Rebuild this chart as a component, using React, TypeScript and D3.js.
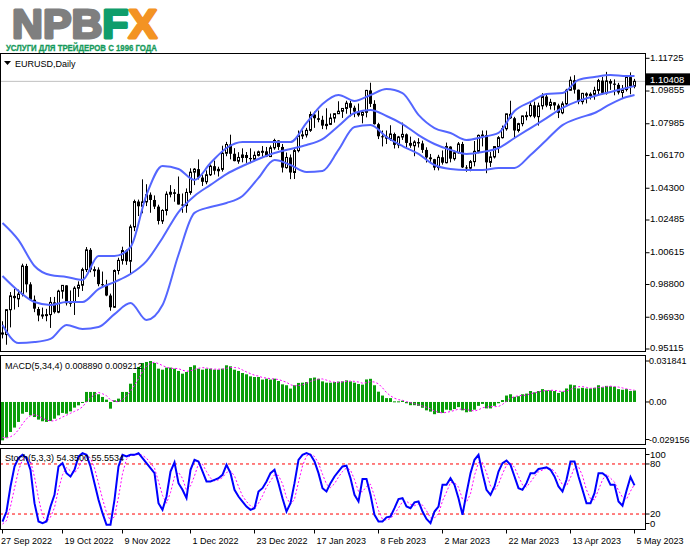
import React from "react";
import * as d3 from "d3";

// ---------- price data (EURUSD daily) ----------
const openP = [
  0.9606,0.9594,0.9736,0.9815,0.9798,0.9825,0.9986,0.9881,0.9793,0.9740,
  0.9703,0.9706,0.9708,0.9778,0.9722,0.9842,0.9875,0.9773,0.9781,0.9859,
  0.9876,0.9965,1.0078,0.9965,0.9965,0.9882,0.9876,0.9817,0.9750,0.9960,
  1.0018,1.0074,1.0013,1.0209,1.0354,1.0327,1.0352,1.0393,1.0363,1.0325,
  1.0243,1.0303,1.0396,1.0407,1.0398,1.0337,1.0331,1.0406,1.0522,1.0539,
  1.0491,1.0467,1.0507,1.0556,1.0530,1.0538,1.0630,1.0680,1.0627,1.0585,
  1.0606,1.0620,1.0603,1.0596,1.0618,1.0638,1.0641,1.0611,1.0661,1.0703,
  1.0666,1.0548,1.0606,1.0520,1.0645,1.0731,1.0735,1.0761,1.0851,1.0830,
  1.0821,1.0788,1.0795,1.0831,1.0856,1.0870,1.0886,1.0916,1.0890,1.0868,
  1.0847,1.0864,1.0989,1.0912,1.0796,1.0727,1.0726,1.0713,1.0740,1.0678,
  1.0723,1.0738,1.0689,1.0673,1.0694,1.0686,1.0649,1.0606,1.0596,1.0548,
  1.0607,1.0576,1.0668,1.0599,1.0633,1.0683,1.0549,1.0545,1.0582,1.0641,
  1.0732,1.0734,1.0578,1.0609,1.0668,1.0719,1.0770,1.0855,1.0830,1.0760,
  1.0799,1.0843,1.0845,1.0904,1.0839,1.0901,1.0954,1.0903,1.0921,1.0903,
  1.0861,1.0912,1.0990,1.1047,1.0993,1.0925,1.0972,1.0959,1.0967,1.0989,
  1.1045,1.0975,1.1043,1.1028,1.1021,1.0977,1.0994,1.1065,1.1013
];
const highP = [
  0.9670,0.9738,0.9837,0.9854,0.9851,0.9999,0.9998,0.9893,0.9817,0.9752,
  0.9748,0.9741,0.9808,0.9809,0.9850,0.9874,0.9876,0.9846,0.9870,0.9898,
  0.9976,1.0094,1.0088,0.9983,0.9978,0.9954,0.9907,0.9828,0.9966,1.0033,
  1.0096,1.0080,1.0222,1.0365,1.0365,1.0481,1.0453,1.0406,1.0389,1.0336,
  1.0310,1.0412,1.0448,1.0425,1.0497,1.0400,1.0429,1.0544,1.0545,1.0595,
  1.0505,1.0532,1.0566,1.0588,1.0553,1.0673,1.0695,1.0736,1.0659,1.0636,
  1.0658,1.0637,1.0658,1.0640,1.0645,1.0671,1.0666,1.0674,1.0713,1.0703,
  1.0683,1.0634,1.0623,1.0660,1.0760,1.0761,1.0775,1.0868,1.0868,1.0874,
  1.0844,1.0887,1.0857,1.0859,1.0927,1.0887,1.0930,1.0929,1.0902,1.0914,
  1.0877,1.0992,1.1033,1.0933,1.0804,1.0760,1.0760,1.0790,1.0748,1.0729,
  1.0805,1.0743,1.0725,1.0704,1.0716,1.0702,1.0664,1.0626,1.0598,1.0621,
  1.0646,1.0691,1.0670,1.0645,1.0694,1.0695,1.0562,1.0591,1.0700,1.0737,
  1.0760,1.0760,1.0637,1.0670,1.0728,1.0788,1.0856,1.0930,1.0838,1.0804,
  1.0845,1.0868,1.0926,1.0925,1.0919,1.0973,1.0970,1.0941,1.0922,1.0913,
  1.0926,1.0998,1.1068,1.1076,1.0994,1.0975,1.0978,1.0978,1.1010,1.1055,
  1.1066,1.1095,1.1053,1.1052,1.1032,1.1020,1.1077,1.1092,1.1055
];
const lowP = [
  0.9572,0.9536,0.9635,0.9737,0.9751,0.9812,0.9835,0.9786,0.9722,0.9670,
  0.9684,0.9670,0.9632,0.9714,0.9716,0.9799,0.9760,0.9753,0.9706,0.9809,
  0.9843,0.9951,0.9950,0.9924,0.9870,0.9864,0.9813,0.9730,0.9747,0.9937,
  0.9994,0.9992,0.9935,1.0185,1.0271,1.0287,1.0328,1.0290,1.0311,1.0223,
  1.0226,1.0275,1.0378,1.0353,1.0337,1.0290,1.0290,1.0393,1.0448,1.0480,
  1.0443,1.0453,1.0500,1.0508,1.0497,1.0525,1.0613,1.0595,1.0584,1.0570,
  1.0578,1.0575,1.0573,1.0586,1.0612,1.0609,1.0608,1.0609,1.0650,1.0649,
  1.0520,1.0542,1.0482,1.0483,1.0635,1.0711,1.0720,1.0752,1.0775,1.0807,
  1.0768,1.0766,1.0791,1.0805,1.0855,1.0832,1.0856,1.0840,1.0836,1.0839,
  1.0801,1.0835,1.0894,1.0794,1.0711,1.0669,1.0683,1.0701,1.0657,1.0659,
  1.0706,1.0662,1.0661,1.0613,1.0663,1.0632,1.0577,1.0577,1.0533,1.0532,
  1.0565,1.0572,1.0578,1.0588,1.0628,1.0546,1.0524,1.0527,1.0555,1.0630,
  1.0669,1.0516,1.0552,1.0600,1.0631,1.0714,1.0759,1.0826,1.0713,1.0749,
  1.0784,1.0818,1.0836,1.0830,1.0788,1.0880,1.0893,1.0880,1.0875,1.0831,
  1.0853,1.0906,1.0988,1.0971,1.0910,1.0909,1.0915,1.0937,1.0936,1.0968,
  1.0966,1.0965,1.0992,1.0961,1.0966,1.0941,1.0983,1.0967,1.1001
];
const closeP = [
  0.9594,0.9736,0.9815,0.9802,0.9825,0.9986,0.9881,0.9793,0.9742,0.9703,
  0.9706,0.9708,0.9778,0.9722,0.9842,0.9875,0.9773,0.9781,0.9859,0.9876,
  0.9965,1.0078,0.9965,0.9965,0.9882,0.9876,0.9817,0.9750,0.9960,1.0018,
  1.0074,1.0013,1.0209,1.0354,1.0327,1.0352,1.0393,1.0363,1.0325,1.0243,
  1.0303,1.0396,1.0407,1.0398,1.0337,1.0331,1.0406,1.0522,1.0539,1.0491,
  1.0467,1.0507,1.0556,1.0530,1.0538,1.0630,1.0680,1.0627,1.0585,1.0606,
  1.0620,1.0603,1.0596,1.0618,1.0638,1.0641,1.0611,1.0661,1.0703,1.0666,
  1.0548,1.0606,1.0520,1.0645,1.0731,1.0735,1.0761,1.0851,1.0830,1.0821,
  1.0788,1.0795,1.0831,1.0856,1.0870,1.0886,1.0916,1.0890,1.0868,1.0847,
  1.0864,1.0989,1.0912,1.0796,1.0727,1.0726,1.0713,1.0740,1.0678,1.0723,
  1.0738,1.0689,1.0673,1.0694,1.0686,1.0649,1.0606,1.0596,1.0548,1.0607,
  1.0576,1.0668,1.0599,1.0633,1.0683,1.0549,1.0545,1.0582,1.0641,1.0732,
  1.0734,1.0578,1.0609,1.0668,1.0719,1.0770,1.0855,1.0830,1.0760,1.0799,
  1.0843,1.0845,1.0904,1.0839,1.0901,1.0954,1.0903,1.0921,1.0903,1.0861,
  1.0912,1.0990,1.1047,1.0993,1.0925,1.0972,1.0959,1.0967,1.0989,1.1045,
  1.0975,1.1043,1.1028,1.1021,1.0977,1.0994,1.1065,1.1013,1.1041
];

// ---------- Bollinger bands, read at every 4th bar ----------
const bandIdx = [0,4,8,12,16,20,24,28,32,36,40,44,48,52,56,60,64,68,72,76,80,84,88,92,96,100,104,108,112,116,120,124,128,132,136,140,144,148,152,156,158];
const bbUpper = [
  1.0232,1.0134,0.9986,0.9934,0.9923,0.9906,1.0043,1.0043,1.0094,1.0392,
  1.0557,1.0540,1.0477,1.0574,1.0660,1.0694,1.0694,1.0694,1.0694,1.0803,
  1.0911,1.0963,1.0929,1.0963,1.0997,1.0974,1.0849,1.0774,1.0746,1.0706,
  1.0723,1.0746,1.0871,1.0923,1.0968,1.0974,1.1049,1.1066,1.1077,1.1071,1.1071
];
const bbMiddle = [
  0.9929,0.9843,0.9780,0.9763,0.9780,0.9780,0.9854,0.9894,0.9940,1.0014,
  1.0146,1.0294,1.0386,1.0449,1.0511,1.0557,1.0597,1.0631,1.0654,1.0677,
  1.0711,1.0786,1.0860,1.0877,1.0843,1.0797,1.0734,1.0683,1.0649,1.0626,
  1.0637,1.0660,1.0717,1.0774,1.0831,1.0889,1.0929,1.0957,1.0980,1.1003,1.1014
];
const bbLower = [
  0.9649,0.9546,0.9551,0.9569,0.9649,0.9626,0.9637,0.9711,0.9774,0.9677,
  0.9763,1.0050,1.0289,1.0323,1.0346,1.0386,1.0489,1.0591,1.0563,1.0523,
  1.0529,1.0649,1.0780,1.0791,1.0723,1.0671,1.0626,1.0563,1.0540,1.0534,
  1.0534,1.0546,1.0546,1.0620,1.0706,1.0791,1.0831,1.0860,1.0911,1.0951,1.0963
];

// ---------- MACD(5,34,4) ----------
const macdHist = [
  -0.0298,-0.0277,-0.0233,-0.0199,-0.0155,-0.0091,-0.0078,-0.0104,-0.0117,-0.0137,
  -0.0150,-0.0155,-0.0148,-0.0130,-0.0104,-0.0085,-0.0091,-0.0073,-0.0044,-0.0026,
  -0.0008,0.0078,0.0078,0.0078,0.0060,0.0039,0.0018,-0.0052,0.0013,0.0026,
  0.0078,0.0078,0.0142,0.0225,0.0272,0.0303,0.0311,0.0318,0.0303,0.0259,
  0.0251,0.0267,0.0267,0.0259,0.0241,0.0220,0.0233,0.0272,0.0285,0.0259,
  0.0251,0.0259,0.0259,0.0251,0.0251,0.0259,0.0285,0.0277,0.0251,0.0241,
  0.0225,0.0215,0.0199,0.0194,0.0194,0.0174,0.0181,0.0174,0.0181,0.0163,
  0.0137,0.0130,0.0104,0.0130,0.0148,0.0150,0.0155,0.0185,0.0190,0.0180,
  0.0160,0.0150,0.0150,0.0155,0.0158,0.0160,0.0168,0.0160,0.0150,0.0140,
  0.0135,0.0175,0.0180,0.0130,0.0080,0.0050,0.0030,0.0030,0.0005,0.0005,
  0.0010,-0.0010,-0.0025,-0.0025,-0.0030,-0.0045,-0.0065,-0.0075,-0.0095,-0.0085,
  -0.0085,-0.0060,-0.0065,-0.0055,-0.0040,-0.0065,-0.0080,-0.0075,-0.0060,-0.0030,
  -0.0015,-0.0050,-0.0050,-0.0030,-0.0010,0.0015,0.0050,0.0060,0.0040,0.0045,
  0.0060,0.0065,0.0085,0.0075,0.0085,0.0100,0.0090,0.0090,0.0085,0.0070,
  0.0080,0.0105,0.0135,0.0130,0.0105,0.0110,0.0105,0.0105,0.0110,0.0130,
  0.0115,0.0125,0.0122,0.0118,0.0100,0.0095,0.0100,0.0085,0.0089
];
const macdSignal = [
  -0.0275,-0.0280,-0.0270,-0.0252,-0.0216,-0.0170,-0.0131,-0.0107,-0.0098,-0.0109,
  -0.0127,-0.0140,-0.0148,-0.0146,-0.0134,-0.0117,-0.0103,-0.0088,-0.0073,-0.0059,
  -0.0038,0.0000,0.0031,0.0057,0.0074,0.0064,0.0049,0.0016,0.0005,0.0001,
  0.0016,0.0049,0.0081,0.0131,0.0179,0.0236,0.0278,0.0301,0.0309,0.0298,
  0.0283,0.0270,0.0261,0.0261,0.0259,0.0247,0.0238,0.0242,0.0253,0.0262,
  0.0267,0.0264,0.0257,0.0255,0.0255,0.0255,0.0262,0.0268,0.0268,0.0264,
  0.0249,0.0233,0.0220,0.0208,0.0201,0.0190,0.0186,0.0181,0.0178,0.0175,
  0.0164,0.0153,0.0134,0.0125,0.0128,0.0133,0.0146,0.0160,0.0170,0.0178,
  0.0179,0.0170,0.0160,0.0154,0.0153,0.0156,0.0160,0.0162,0.0160,0.0155,
  0.0146,0.0150,0.0158,0.0155,0.0141,0.0110,0.0073,0.0048,0.0029,0.0018,
  0.0013,0.0003,-0.0005,-0.0013,-0.0023,-0.0031,-0.0041,-0.0054,-0.0070,-0.0080,
  -0.0085,-0.0081,-0.0074,-0.0066,-0.0055,-0.0056,-0.0060,-0.0065,-0.0070,-0.0061,
  -0.0045,-0.0039,-0.0036,-0.0036,-0.0035,-0.0019,0.0006,0.0029,0.0041,0.0049,
  0.0051,0.0053,0.0064,0.0071,0.0078,0.0086,0.0088,0.0091,0.0091,0.0084,
  0.0081,0.0085,0.0098,0.0113,0.0119,0.0120,0.0113,0.0106,0.0108,0.0113,
  0.0115,0.0120,0.0123,0.0120,0.0116,0.0109,0.0103,0.0095,0.0092
];

// ---------- Stochastic(5,3,3) ----------
const stochMain = [
  11,23,53,77,87,91,87,73,33,11,
  9,11,29,43,77,81,69,65,73,89,
  93,91,77,57,37,21,7,7,37,77,
  91,89,91,91,93,87,81,75,69,33,
  25,41,71,82,57,49,39,73,85,83,
  71,59,59,61,63,67,79,69,49,41,
  35,29,25,27,47,51,59,69,73,57,
  39,23,33,57,85,91,93,91,83,69,
  51,47,57,65,71,77,78,63,43,35,
  62,62,43,19,11,11,16,17,27,38,
  39,29,27,34,35,23,14,9,23,29,
  55,55,63,55,39,19,45,69,85,91,
  69,49,43,53,71,81,84,79,65,51,
  49,57,69,69,74,75,76,73,65,53,
  47,61,83,83,65,49,33,33,45,69,
  69,65,55,55,35,30,48,64.3,54.35
];
const stochSignal = [
  8,12,29,51,72.3,85,88.3,83.7,64.3,39,
  17.7,10.3,16.3,27.7,49.7,67,75.7,71.7,69,75.7,
  85,91,87,75,57,38.3,21.7,11.7,17,40.3,
  68.3,85.7,90.3,90.3,91.7,90.3,87,81,75,59,
  42.3,33,45.7,64.7,70,62.7,48.3,53.7,65.7,80.3,
  79.7,71,63,59.7,61,63.7,69.7,71.7,65.7,53,
  41.7,35,29.7,27,33,41.7,52.3,59.7,67,66.3,
  56.3,39.7,31.7,37.7,58.3,77.7,89.7,91.7,89,81,
  67.7,55.7,51.7,56.3,64.3,71,75.3,72.7,61.3,47,
  46.7,53,55.7,41.3,24.3,13.7,12.7,14.7,20,27.3,
  34.7,35.3,31.7,30,32,30.7,24,15.3,15.3,20.3,
  35.7,46.3,57.7,57.7,52.3,37.7,34.3,44.3,66.3,81.7,
  81.7,69.7,53.7,48.3,55.7,68.3,78.7,81.3,76,65,
  55,52.3,58.3,65,70.7,72.7,75,74.7,71.3,63.7,
  55,53.7,63.7,75.7,77,65.7,49,38.3,37,49,
  61,67.7,63,58.3,48.3,40,37.7,47.4,55.5534
];

// ---------- axes ----------
const priceTicks = [1.11725,1.09855,1.07985,1.0617,1.043,1.02485,1.00615,0.988,0.9693,0.95115];
const priceTickLabels = ["1.11725","1.09855","1.07985","1.06170","1.04300","1.02485","1.00615","0.98800","0.96930","0.95115"];
const macdTicks = [0.031841, 0, -0.029156];
const macdTickLabels = ["0.031841","0.00","-0.029156"];
const stochTicks = [100, 80, 20, 0];
const stochLevels = [80, 20];
const dateLabels = ["27 Sep 2022","19 Oct 2022","9 Nov 2022","1 Dec 2022","23 Dec 2022","17 Jan 2023","8 Feb 2023","2 Mar 2023","22 Mar 2023","13 Apr 2023","5 May 2023"];
const dateIdx = [0,15,30,47,63,78,94,110,126,142,158];
const bidPrice = 1.10408;
const bidLabel = "1.10408";
const symbolTitle = "EURUSD,Daily";
const macdTitle = "MACD(5,34,4) 0.008890 0.009212";
const stochTitle = "Stoch(5,3,3) 54.3500 55.5534";
const logoMain = "NPB";
const logoF = "F";
const logoX = "X";
const tagline = "УСЛУГИ ДЛЯ ТРЕЙДЕРОВ С 1996 ГОДА";

const FONT = "'Liberation Sans', Arial, sans-serif";

export default function App() {
  const N = closeP.length;
  const PR = 645.5; // right edge of panels
  const main = { t: 53.5, b: 351.5 };
  const macdP = { t: 355.5, b: 444.5 };
  const stP = { t: 448.5, b: 529.5 };

  const xS = d3.scaleLinear().domain([0, N - 1]).range([2.5, 634.5]);
  const yP = d3.scaleLinear().domain([0.95115, 1.11725]).range([349, 58.3]);
  const yM = d3.scaleLinear().domain([-0.029156, 0.031841]).range([439.5, 361]);
  const yS = d3.scaleLinear().domain([0, 100]).range([530.7, 447.3]);

  const bandLine = d3
    .line<number>()
    .x((_, k) => xS(bandIdx[k]))
    .y((v) => yP(v))
    .curve(d3.curveMonotoneX);

  const macdSigLine = d3
    .line<number>()
    .x((_, i) => xS(i))
    .y((v) => yM(v));
  const stLine = d3
    .line<number>()
    .x((_, i) => xS(i))
    .y((v) => yS(v));

  const bidY = yP(bidPrice);

  return (
    <div style={{ position: "absolute", left: 0, top: 0, width: 691, height: 549, background: "#fff" }}>
      <svg width={691} height={549} style={{ display: "block" }} fontFamily={FONT}>
        <defs>
          <clipPath id="cMain">
            <rect x={1} y={main.t + 0.5} width={PR - 1.5} height={main.b - main.t - 1} />
          </clipPath>
          <clipPath id="cMacd">
            <rect x={1} y={macdP.t + 0.5} width={PR - 1.5} height={macdP.b - macdP.t - 1} />
          </clipPath>
          <clipPath id="cSt">
            <rect x={1} y={stP.t + 0.5} width={PR - 1.5} height={stP.b - stP.t - 1} />
          </clipPath>
        </defs>
        <rect x={0} y={0} width={691} height={549} fill="#fff" />

        {/* Logo */}
        <text x={12} y={38} fontWeight={900} fontSize={41} strokeWidth={2.8} strokeLinejoin="round" textLength={145} lengthAdjust="spacingAndGlyphs">
          <tspan fill="#7f7f7f" stroke="#7f7f7f">{logoMain}</tspan>
          <tspan fill="#0f9d6b" stroke="#0f9d6b">{logoF}</tspan>
          <tspan fill="#f39323" stroke="#f39323">{logoX}</tspan>
        </text>
        <text x={6} y={51} fontSize={9} fontWeight={700} fill="#159a5a" stroke="#159a5a" strokeWidth={0.3} textLength={151} lengthAdjust="spacingAndGlyphs">
          {tagline}
        </text>

        {/* panel frames */}
        {[main, macdP, stP].map((p, k) => (
          <rect key={k} x={0.5} y={p.t} width={PR - 0.5} height={p.b - p.t} fill="none" stroke="#000" strokeWidth={1} />
        ))}

        {/* ---------- main panel ---------- */}
        <g clipPath="url(#cMain)">
          <line x1={0} x2={PR} y1={bidY} y2={bidY} stroke="#c0c0c0" strokeWidth={1} />
          {closeP.map((c, i) => {
            const o = openP[i];
            const cx = xS(i);
            const top = yP(Math.max(o, c));
            const bot = yP(Math.min(o, c));
            const bull = c >= o;
            return (
              <g key={i}>
                <line x1={cx} x2={cx} y1={yP(highP[i])} y2={yP(lowP[i])} stroke="#000" strokeWidth={1} />
                {bull ? (
                  <rect x={cx - 1} y={top} width={2} height={Math.max(bot - top, 1)} fill="#fff" stroke="#000" strokeWidth={1} />
                ) : (
                  <rect x={cx - 1.5} y={top} width={3} height={Math.max(bot - top, 1)} fill="#000" />
                )}
              </g>
            );
          })}
          {[bbUpper, bbMiddle, bbLower].map((b, k) => (
            <path key={k} d={bandLine(b) || ""} fill="none" stroke="#5466ff" strokeWidth={2} />
          ))}
        </g>
        <polygon points="4,61 11,61 7.5,65" fill="#000" />
        <text x={15} y={67} fontSize={9} fill="#000">{symbolTitle}</text>

        {/* price axis */}
        {priceTicks.map((p, k) => (
          <g key={k}>
            <line x1={PR} x2={PR + 4} y1={yP(p)} y2={yP(p)} stroke="#000" />
            <text x={650} y={yP(p) - 1} fontSize={9.5} dy="0.35em" fill="#000">{priceTickLabels[k]}</text>
          </g>
        ))}
        <rect x={646} y={bidY - 8} width={44} height={12} fill="#000" />
        <text x={650} y={bidY - 2} fontSize={9.5} dy="0.35em" fill="#fff">{bidLabel}</text>

        {/* ---------- MACD panel ---------- */}
        <g clipPath="url(#cMacd)">
          {macdHist.map((v, i) => {
            const y0 = yM(0);
            const y1 = yM(v);
            return (
              <rect key={i} x={xS(i) - 1.5} y={Math.min(y0, y1)} width={3} height={Math.max(Math.abs(y1 - y0), 1)} fill="#0a9e0a" />
            );
          })}
          <path d={macdSigLine(macdSignal) || ""} fill="none" stroke="#ff00ff" strokeWidth={1} strokeDasharray="2,2" />
        </g>
        <text x={5} y={369} fontSize={9} fill="#000">{macdTitle}</text>
        {macdTicks.map((v, k) => (
          <g key={k}>
            <line x1={PR} x2={PR + 4} y1={yM(v)} y2={yM(v)} stroke="#000" />
            <text x={649} y={yM(v)} fontSize={9} dy="0.35em" fill="#000">{macdTickLabels[k]}</text>
          </g>
        ))}

        {/* ---------- Stochastic panel ---------- */}
        <g clipPath="url(#cSt)">
          {stochLevels.map((lv) => (
            <line key={lv} x1={0} x2={PR} y1={yS(lv)} y2={yS(lv)} stroke="#ff0000" strokeWidth={1} strokeDasharray="3,3" />
          ))}
          <path d={stLine(stochSignal) || ""} fill="none" stroke="#ff00ff" strokeWidth={1} strokeDasharray="2,2" />
          <path d={stLine(stochMain) || ""} fill="none" stroke="#0000ff" strokeWidth={2} />
        </g>
        <text x={5} y={461} fontSize={9} fill="#000">{stochTitle}</text>
        {stochTicks.map((v, k) => {
          const yy = Math.min(Math.max(yS(v), stP.t + 6), stP.b - 6);
          return (
            <g key={k}>
              <line x1={PR} x2={PR + 4} y1={yy} y2={yy} stroke="#000" />
              <text x={650} y={yy} fontSize={9.5} dy="0.35em" fill="#000">{String(v)}</text>
            </g>
          );
        })}

        {/* ---------- time axis ---------- */}
        {dateLabels.map((d, k) => {
          const tx = xS(dateIdx[k]);
          return (
            <g key={k}>
              <line x1={tx} x2={tx} y1={stP.b} y2={stP.b + 4} stroke="#000" />
              <text x={k === 0 ? 1 : tx + 2} y={544} fontSize={9} fill="#000">{d}</text>
            </g>
          );
        })}
      </svg>
    </div>
  );
}
